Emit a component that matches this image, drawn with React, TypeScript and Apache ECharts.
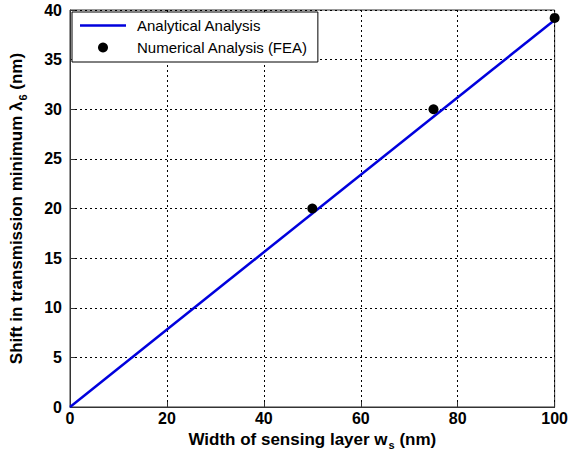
import React, { useEffect, useRef } from "react";
import * as echarts from "echarts";

const lineX = [0, 100];
const lineY = [0, 39];
const feaX = [50, 75, 100];
const feaY = [20, 30, 39.2];
const xTicks = [0, 20, 40, 60, 80, 100];
const yTicks = [0, 5, 10, 15, 20, 25, 30, 35, 40];

export default function App() {
  const ref = useRef<HTMLDivElement>(null);
  useEffect(() => {
    if (!ref.current) return;
    const chart = echarts.init(ref.current, null, { renderer: "svg" });
    const font = "Liberation Sans, Arial, sans-serif";
    const subStyle = { fontFamily: font, fontSize: 11, fontWeight: "bold", color: "#000", verticalAlign: "bottom", padding: [12, 0, 0, 1] };
    chart.setOption({
      animation: false,
      backgroundColor: "#ffffff",
      textStyle: { fontFamily: font },
      grid: {
        left: 70,
        right: 16,
        top: 10,
        bottom: 52,
        show: true,
        borderColor: "#333",
        borderWidth: 1,
      },
      legend: {
        orient: "vertical",
        left: 72,
        top: 12,
        backgroundColor: "#fff",
        borderColor: "#000",
        borderWidth: 1,
        borderRadius: 0,
        padding: [6, 10, 7, 8],
        itemGap: 7,
        itemWidth: 46,
        itemHeight: 10,
        textStyle: { fontFamily: font, fontSize: 15, color: "#000", padding: [0, 0, 0, 6] },
        data: [
          { name: "Analytical Analysis", icon: "path://M0,0 L46,0 L46,2.5 L0,2.5 Z" },
          { name: "Numerical Analysis (FEA)", icon: "circle" },
        ],
      },
      xAxis: {
        type: "value",
        min: 0,
        max: 100,
        interval: 20,
        name: "Width of sensing layer w{sub|s} (nm)",
        nameLocation: "middle",
        nameGap: 20,
        nameTextStyle: {
          fontFamily: font,
          fontSize: 17,
          fontWeight: "bold",
          color: "#000",
          rich: { sub: subStyle },
        },
        axisLine: { show: true, lineStyle: { color: "#333" } },
        axisTick: { inside: true, length: 5, lineStyle: { color: "#333" } },
        axisLabel: {
          fontFamily: font,
          fontSize: 16,
          fontWeight: "bold",
          color: "#000",
          margin: 3,
          formatter: (v: number) => (xTicks.includes(v) ? String(v) : ""),
        },
        splitLine: { show: true, lineStyle: { color: "#000", type: [2, 3], width: 1 } },
      },
      yAxis: {
        type: "value",
        min: 0,
        max: 40,
        interval: 5,
        name: "Shift in transmission minimum λ{sub|6} (nm)",
        nameLocation: "middle",
        nameRotate: 90,
        nameGap: 42,
        nameTextStyle: {
          fontFamily: font,
          fontSize: 17,
          fontWeight: "bold",
          color: "#000",
          rich: { sub: subStyle },
        },
        axisLine: { show: true, lineStyle: { color: "#333" } },
        axisTick: { inside: true, length: 5, lineStyle: { color: "#333" } },
        axisLabel: {
          fontFamily: font,
          fontSize: 16,
          fontWeight: "bold",
          color: "#000",
          margin: 8,
          formatter: (v: number) => (yTicks.includes(v) ? String(v) : ""),
        },
        splitLine: { show: true, lineStyle: { color: "#000", type: [2, 3], width: 1 } },
      },
      series: [
        {
          name: "Analytical Analysis",
          type: "line",
          data: lineX.map((x, i) => [x, lineY[i]]),
          symbol: "none",
          lineStyle: { color: "#0000dd", width: 2.5 },
          itemStyle: { color: "#0000dd" },
          z: 3,
        },
        {
          name: "Numerical Analysis (FEA)",
          type: "scatter",
          data: feaX.map((x, i) => [x, feaY[i]]),
          symbol: "circle",
          symbolSize: 10,
          itemStyle: { color: "#000", opacity: 1 },
          z: 4,
        },
      ],
    });
    return () => chart.dispose();
  }, []);
  return <div ref={ref} style={{ width: 571, height: 459, position: "absolute", left: 0, top: 0 }} />;
}
